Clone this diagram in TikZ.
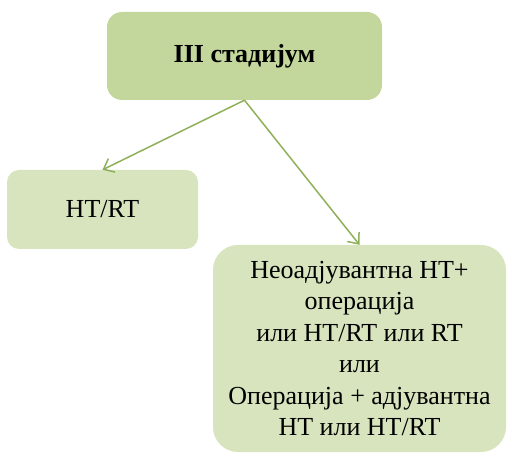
\documentclass[tikz,border=0pt]{standalone}
\usepackage{fontspec}
\setmainfont{Liberation Serif}
\usetikzlibrary{arrows.meta}
\definecolor{boxdark}{HTML}{C3D69B}
\definecolor{boxlight}{HTML}{D7E4BD}
\definecolor{arrowgreen}{HTML}{8FB05A}
\tikzset{
  stagebox/.style={fill=boxdark,rounded corners=15pt,align=center,inner sep=0pt},
  treatbox/.style={fill=boxlight,align=center,inner sep=0pt},
  treatarrow/.style={draw=arrowgreen,line width=1.5pt,-{Straight Barb[length=9pt,width=15pt,line width=1.5pt]}}
}
\begin{document}
\begin{tikzpicture}[x=1pt,y=1pt]
  \useasboundingbox (0,0) rectangle (508,452);
  \node[stagebox,minimum width=275pt,minimum height=88pt,font=\fontsize{26}{30}\selectfont\bfseries]
    (stage) at (244.5,396) {III стадијум};
  \node[treatbox,rounded corners=12pt,minimum width=191pt,minimum height=79pt,font=\fontsize{26}{30}\selectfont]
    (htrt) at (102.5,242.5) {HT/RT};
  \node[treatbox,rounded corners=25pt,minimum width=293pt,minimum height=207pt,font=\fontsize{26}{31.5}\selectfont]
    (surgery) at (359.5,103.5) {Неоадјувантна HT+\\операција\\или HT/RT или RT\\или\\Операција + адјувантна\\HT или HT/RT};
  \draw[treatarrow] (stage.south) -- (htrt.north);
  \draw[treatarrow] (stage.south) -- (surgery.north);
\end{tikzpicture}
\end{document}
